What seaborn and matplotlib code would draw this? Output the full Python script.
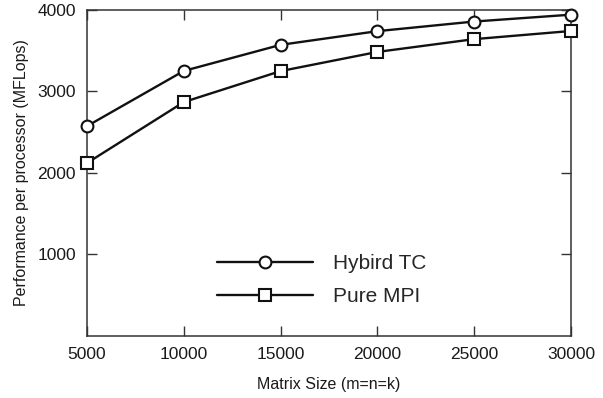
import matplotlib
matplotlib.use("Agg")
import matplotlib.pyplot as plt
import seaborn as sns
import pandas as pd

sizes = [5000, 10000, 15000, 20000, 25000, 30000]
hybird_tc = [2575, 3252, 3572, 3740, 3858, 3942]
pure_mpi = [2122, 2870, 3250, 3485, 3642, 3742]
series_names = ["Hybird TC", "Pure MPI"]
x_ticks = [5000, 10000, 15000, 20000, 25000, 30000]
y_ticks = [1000, 2000, 3000, 4000]

df = pd.DataFrame({
    "size": sizes * 2,
    "perf": hybird_tc + pure_mpi,
    "series": [series_names[0]] * len(sizes) + [series_names[1]] * len(sizes),
})

sns.set_style("ticks")
plt.rcParams["font.family"] = ["Liberation Sans", "DejaVu Sans"]

fig = plt.figure(figsize=(6.03, 3.98), dpi=100)
ax = fig.add_axes([0.1443, 0.1558, 0.947 - 0.1443, 0.975 - 0.1558])

sns.lineplot(
    data=df, x="size", y="perf", hue="series", style="series",
    palette={series_names[0]: "#111111", series_names[1]: "#111111"},
    markers={series_names[0]: "o", series_names[1]: "s"},
    dashes=False, linewidth=1.7, markersize=8.5,
    markerfacecolor="white", markeredgecolor="#111111", markeredgewidth=1.5,
    ax=ax,
)
for ln in ax.lines:
    ln.set_clip_on(False)
    ln.set_zorder(5)

ax.set_xlim(5000, 30000)
ax.set_ylim(0, 4000)
ax.set_xticks(x_ticks)
ax.set_yticks(y_ticks)
ax.set_xticklabels([str(v) for v in x_ticks])
ax.set_yticklabels([str(v) for v in y_ticks])
ax.tick_params(direction="in", length=7, width=1, colors="#333333",
               labelcolor="#1a1a1a", labelsize=12.5, pad=8,
               top=True, right=True)
for sp in ax.spines.values():
    sp.set_visible(True)
    sp.set_color("#333333")
    sp.set_linewidth(1.1)

ax.set_xlabel("Matrix Size (m=n=k)", fontsize=11.5, labelpad=11, color="#1a1a1a")
ax.set_ylabel("Performance per processor (MFLops)", fontsize=11.5, labelpad=6, color="#1a1a1a")

handles, labels = ax.get_legend_handles_labels()
ax.legend(handles, labels, loc="center", bbox_to_anchor=(0.485, 0.172),
          frameon=False, fontsize=15, handlelength=4.6, handletextpad=0.95,
          labelspacing=0.68)

fig.savefig("out.png", dpi=100)
